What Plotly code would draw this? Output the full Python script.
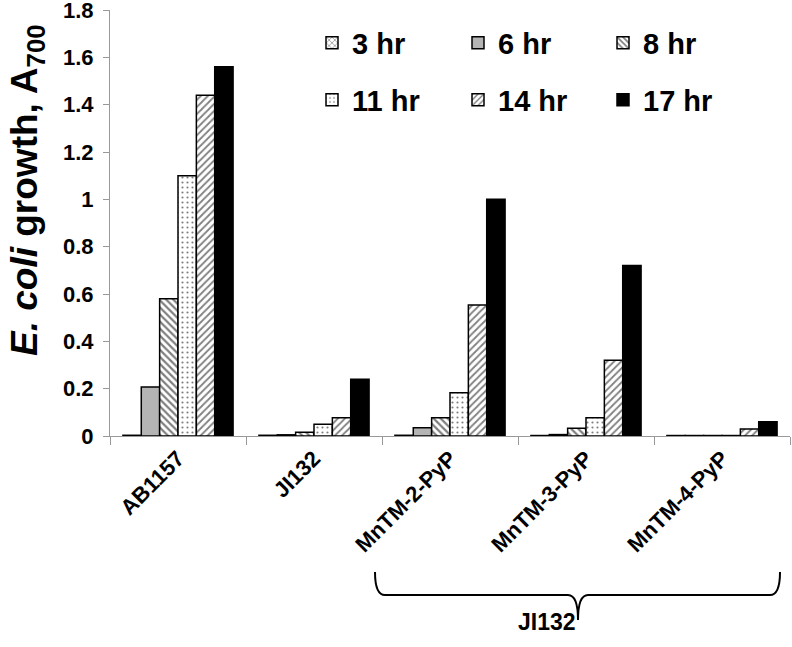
import plotly.graph_objects as go

# data
strains = ["AB1157", "JI132", "MnTM-2-PyP", "MnTM-3-PyP", "MnTM-4-PyP"]
hours = ["3 hr", "6 hr", "8 hr", "11 hr", "14 hr", "17 hr"]
v3 = [0.003, 0.003, 0.003, 0.002, 0.002]
v6 = [0.207, 0.005, 0.035, 0.006, 0.002]
v8 = [0.58, 0.016, 0.077, 0.033, 0.002]
v11 = [1.10, 0.05, 0.183, 0.077, 0.002]
v14 = [1.44, 0.077, 0.553, 0.32, 0.03]
v17 = [1.56, 0.24, 1.0, 0.72, 0.06]
series = [v3, v6, v8, v11, v14, v17]
y_ticks = [0, 0.2, 0.4, 0.6, 0.8, 1.0, 1.2, 1.4, 1.6, 1.8]
y_ticktext = ["0", "0.2", "0.4", "0.6", "0.8", "1", "1.2", "1.4", "1.6", "1.8"]

FONT = "Liberation Sans, Arial, sans-serif"

styles = [
    dict(color="white", pattern=dict(shape="x", fgcolor="black", size=5, solidity=0.3)),
    dict(color="#b4b4b4"),
    dict(color="white", pattern=dict(shape="\\", fgcolor="black", size=5, solidity=0.45)),
    dict(color="white", pattern=dict(shape=".", fgcolor="black", size=5, solidity=0.15)),
    dict(color="white", pattern=dict(shape="/", fgcolor="black", size=5, solidity=0.35)),
    dict(color="black"),
]

# plot area in pixels: x 110..790, y 10..436
L, R, T, B = 110, 2, 10, 211
W, H = 792, 647
pw, ph = W - L - R, H - T - B

def px(x):
    return (x - L) / pw

def py(y):
    return (H - B - y) / ph

# one legend per entry so the 2x3 grid can be placed like the original
legend_names = ["legend"] + [f"legend{i}" for i in range(2, 7)]
legend_xy = [(312, 43), (458, 43), (603, 43), (312, 100), (458, 100), (603, 100)]

fig = go.Figure()
for i, (name, vals) in enumerate(zip(hours, series)):
    fig.add_trace(go.Bar(
        x=strains, y=vals, name=name,
        marker=dict(line=dict(color="black", width=1.5), **styles[i]),
        legend=legend_names[i],
    ))

legends = {}
for lname, (lx, ly) in zip(legend_names, legend_xy):
    legends[lname] = dict(
        x=px(lx), y=py(ly), xanchor="left", yanchor="middle",
        font=dict(family=FONT, size=29, color="black", weight="bold"),
        bgcolor="rgba(0,0,0,0)", itemclick=False, itemdoubleclick=False,
    )

# bracket under the last three categories
bx0, bx1, bxm = 375, 780, 578
by0, by1, by2 = 572, 595, 620
pts = [
    f"M {px(bx0)},{py(by0)}",
    f"Q {px(bx0)},{py(by1)} {px(bx0 + 10)},{py(by1)}",
    f"L {px(bxm - 10)},{py(by1)}",
    f"Q {px(bxm)},{py(by1)} {px(bxm)},{py(by2)}",
    f"Q {px(bxm)},{py(by1)} {px(bxm + 10)},{py(by1)}",
    f"L {px(bx1 - 10)},{py(by1)}",
    f"Q {px(bx1)},{py(by1)} {px(bx1)},{py(by0)}",
]

fig.update_layout(
    width=W, height=H,
    margin=dict(l=L, r=R, t=T, b=B, autoexpand=False),
    plot_bgcolor="white", paper_bgcolor="white",
    showlegend=True,
    barmode="group", bargap=0.19, bargroupgap=0,
    font=dict(family=FONT, color="black"),
    xaxis=dict(
        showline=True, linecolor="#999999", linewidth=1,
        ticks="outside", tickson="boundaries", ticklen=8, tickcolor="#999999",
        tickangle=-45, tickfont=dict(family=FONT, size=22, weight="bold"),
        showgrid=False, automargin=False,
    ),
    yaxis=dict(
        range=[0, 1.8], tickmode="array", tickvals=y_ticks, ticktext=y_ticktext,
        showline=True, linecolor="#999999", linewidth=1,
        ticks="outside", ticklen=6, tickcolor="#999999",
        tickfont=dict(family=FONT, size=22, weight="bold"),
        ticklabelstandoff=5, ticklabeloverflow="allow",
        showgrid=False, zeroline=False, automargin=False,
    ),
    shapes=[dict(
        type="path", xref="paper", yref="paper", path=" ".join(pts),
        line=dict(color="black", width=2),
    )],
    annotations=[
        dict(
            text="<i>E. coli</i> growth, A<sub>700</sub>",
            xref="paper", yref="paper", x=px(2), y=py(190),
            xanchor="left", yanchor="middle",
            textangle=-90, showarrow=False,
            font=dict(family=FONT, size=37, weight="bold"),
        ),
        dict(
            text="JI132", xref="paper", yref="paper",
            x=px(bxm), y=py(637), showarrow=False,
            font=dict(family=FONT, size=23, weight="bold"),
        ),
    ],
    **legends,
)

# drop the browser's default 8px body margin so the figure sits at 0,0
fig.write_html(
    "out.html",
    config={"displayModeBar": False},
    post_script="document.body.style.margin='0';",
)
